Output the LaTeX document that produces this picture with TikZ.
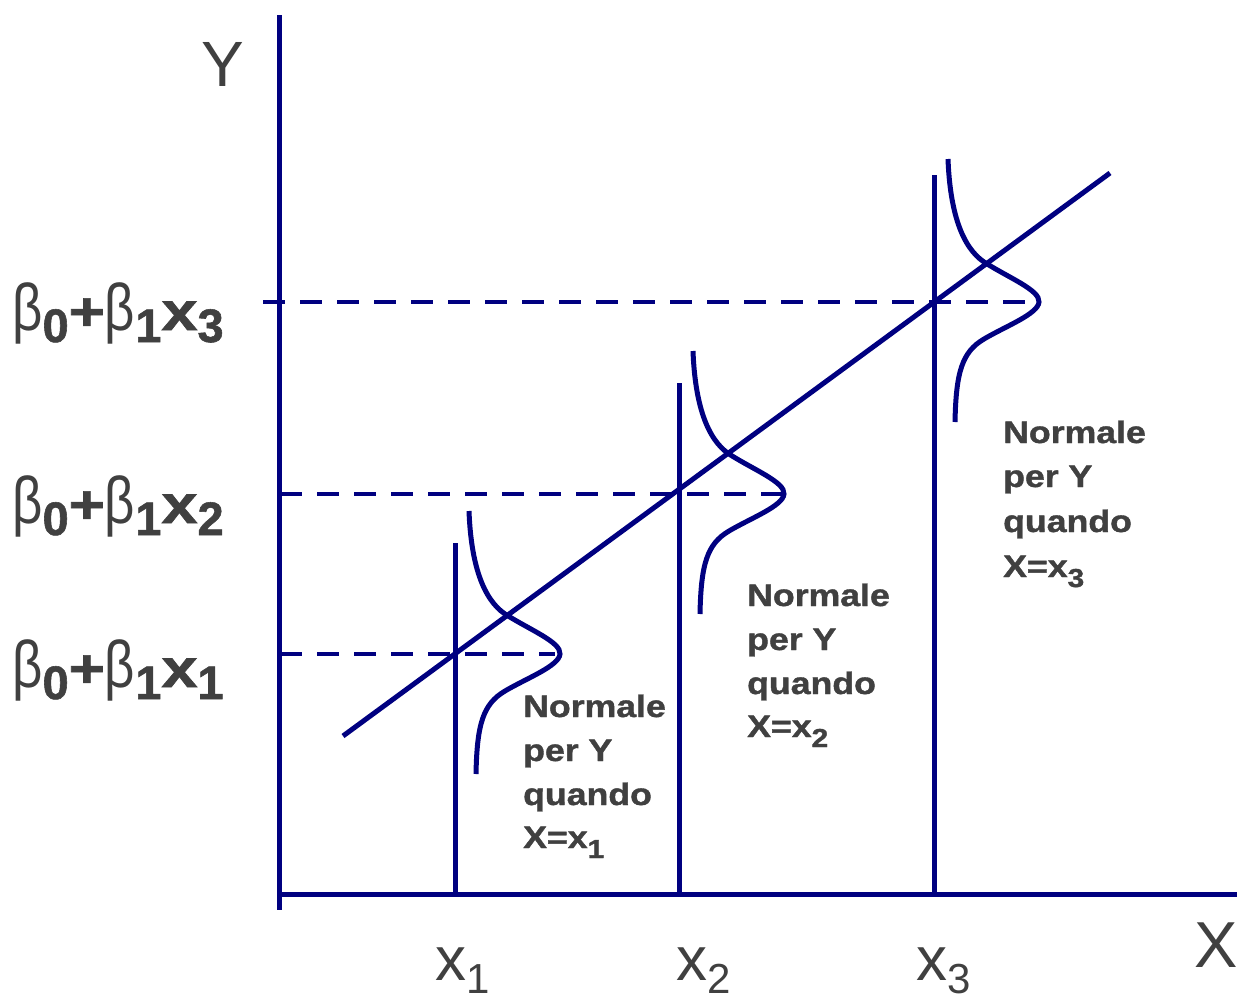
\documentclass[tikz,border=0pt]{standalone}
\usepackage{fontspec}
\setmainfont{Liberation Sans}[BoldFeatures={FakeBold=1.2}]
\usepackage{graphicx}
\definecolor{lineblue}{HTML}{000080}
\definecolor{txtgray}{HTML}{404040}
\newcommand{\fs}[1]{\fontsize{#1}{#1}\selectfont}
\newcommand{\bsym}{{\fs{66}\scalebox{0.8}[1]{β}}}
\newcommand{\bsub}[1]{\raisebox{-12pt}{\bfseries\fs{47}#1}}
\newcommand{\blabel}[1]{\bsym\bsub{0}{\bfseries\fs{54}\scalebox{1.15}[1]{+}}\bsym\bsub{1}{\bfseries\fs{54}\scalebox{1.2}[1]{x}}\bsub{#1}}
\newcommand{\wide}[1]{\scalebox{1.15}[1]{#1}}
\newcommand{\nsub}[1]{\raisebox{-10pt}{\fs{26}#1}}
\tikzset{
  ln/.style={draw=lineblue, line width=5pt},
  dsh/.style={draw=lineblue, line width=4.8pt, dash pattern=on 22pt off 15pt},
  lab/.style={text=txtgray, inner sep=0pt, anchor=base west},
  nl/.style={text=txtgray, inner sep=0pt, anchor=base west, font=\bfseries\fs{31}},
  bell/.pic={\draw[ln] (14,-143) .. controls (16,-90) and (28,-55) .. (50,-40)
      .. controls (75,-24) and (106,-12) .. (105,0)
      .. controls (104,12) and (72,24) .. (50,37)
      .. controls (28,50) and (22,70) .. (21,120);}
}
\begin{document}
\begin{tikzpicture}[x=1pt,y=-1pt]
\useasboundingbox (0,0) rectangle (1237,999);
% axes
\coordinate (yt) at (279,15);
\coordinate (yb) at (279,910);
\coordinate (xa) at (279,894);
\coordinate (xb) at (1237,894);
\draw[ln] (yt) -- (yb);
\draw[ln] (xa) -- (xb);
% centers
\coordinate (c1) at (455,654);
\coordinate (c2) at (679,494);
\coordinate (c3) at (934,302);
% vertical lines
\coordinate (t1) at (455,543);
\coordinate (t2) at (679,383);
\coordinate (t3) at (934,175);
\coordinate (b1) at (455,894);
\coordinate (b2) at (679,894);
\coordinate (b3) at (934,894);
\draw[ln] (t1) -- (b1);
\draw[ln] (t2) -- (b2);
\draw[ln] (t3) -- (b3);
% dashed
\coordinate (d1s) at (280,654);
\coordinate (d1e) at (555,654);
\coordinate (d2s) at (280,494);
\coordinate (d2e) at (782,494);
\coordinate (d3s) at (263,302);
\coordinate (d3e) at (1035,302);
\draw[dsh] (d1s) -- (d1e);
\draw[dsh] (d2s) -- (d2e);
\draw[dsh] (d3s) -- (d3e);
% regression line
\coordinate (r0) at (343,736);
\coordinate (r1) at (1110,173);
\draw[ln] (r0) -- (r1);
% bells
\pic at (c1) {bell};
\pic at (c2) {bell};
\pic at (c3) {bell};
% axis labels
\node[lab] (ylab) at (201,86) {\fs{64}Y};
\node[lab] (xlab) at (1194,967) {\fs{65}X};
\node[lab] (xl1) at (435,980) {\fs{62}x\raisebox{-13pt}{\fs{42}1}};
\node[lab] (xl2) at (676,980) {\fs{62}x\raisebox{-13pt}{\fs{42}2}};
\node[lab] (xl3) at (916,980) {\fs{62}x\raisebox{-13pt}{\fs{42}3}};
% beta labels
\node[lab] (bl3) at (12,330) {\blabel{3}};
\node[lab] (bl2) at (12,523) {\blabel{2}};
\node[lab] (bl1) at (12,687) {\blabel{1}};
% Normale blocks
\node[nl] (n1a) at (523,717) {\wide{Normale}};
\node[nl] (n1b) at (523,761) {\wide{per Y}};
\node[nl] (n1c) at (523,805) {\wide{quando}};
\node[nl] (n1d) at (523,848) {\wide{X=x\nsub{1}}};
\node[nl] (n2a) at (747,606) {\wide{Normale}};
\node[nl] (n2b) at (747,650) {\wide{per Y}};
\node[nl] (n2c) at (747,694) {\wide{quando}};
\node[nl] (n2d) at (747,737) {\wide{X=x\nsub{2}}};
\node[nl] (n3a) at (1003,443) {\wide{Normale}};
\node[nl] (n3b) at (1003,487) {\wide{per Y}};
\node[nl] (n3c) at (1003,532) {\wide{quando}};
\node[nl] (n3d) at (1003,577) {\wide{X=x\nsub{3}}};
\end{tikzpicture}
\end{document}
